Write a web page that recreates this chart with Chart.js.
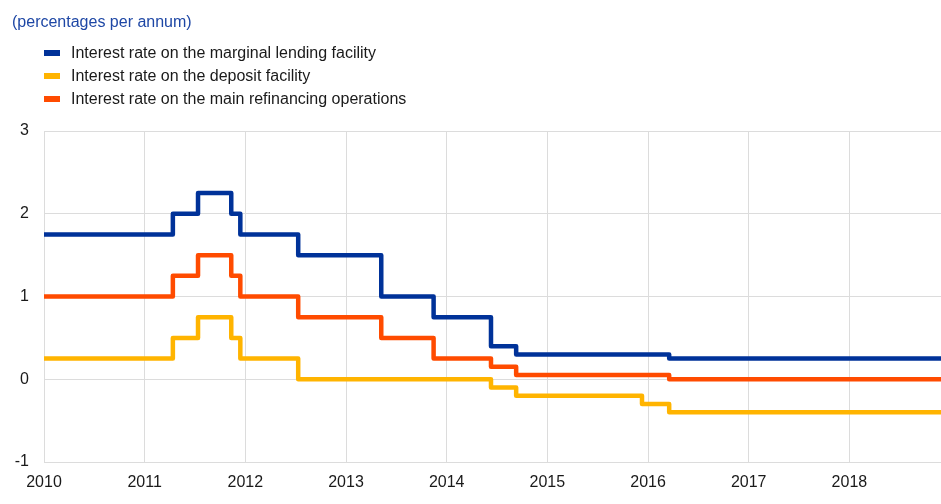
<!DOCTYPE html>
<html lang="en">

<head>
    <meta charset="UTF-8">
    <title>Key ECB interest rates</title>
    <script src="https://cdn.jsdelivr.net/npm/chart.js"></script>
    <style>
        body {
            margin: 0;
            font-family: Arial, "Liberation Sans", sans-serif;
            background: #fff;
        }

        #wrap {
            position: relative;
            width: 941px;
            height: 504px;
        }

        #chart {
            position: absolute;
            left: 0;
            top: 0;
        }

        .title {
            position: absolute;
            left: 12px;
            top: 13px;
            font-size: 16px;
            color: #1e47a5;
        }

        .legend {
            position: absolute;
            left: 44px;
            top: 43px;
        }

        .legend div {
            height: 23px;
            line-height: 20px;
            font-size: 16px;
            color: #1a1a1a;
        }

        .legend span {
            display: inline-block;
            width: 16px;
            height: 6px;
            margin-right: 11px;
            vertical-align: middle;
            position: relative;
            top: -1px;
        }
    </style>
</head>

<body>
    <div id="wrap">
        <canvas id="chart" width="941" height="504"></canvas>
        <div class="title">(percentages per annum)</div>
        <div class="legend" id="legend"></div>
    </div>

    <script>
        // dates of the rate changes, as decimal years (last one = end of chart)
        const changeDates = [2010.0, 2011.28, 2011.53, 2011.86, 2011.95, 2012.525, 2013.35, 2013.87, 2014.44, 2014.69, 2015.94, 2016.21, 2018.91];
        const marginalLending = [1.75, 2.00, 2.25, 2.00, 1.75, 1.50, 1.00, 0.75, 0.40, 0.30, 0.30, 0.25, 0.25];
        const depositFacility = [0.25, 0.50, 0.75, 0.50, 0.25, 0.00, 0.00, 0.00, -0.10, -0.20, -0.30, -0.40, -0.40];
        const mainRefinancing = [1.00, 1.25, 1.50, 1.25, 1.00, 0.75, 0.50, 0.25, 0.15, 0.05, 0.05, 0.00, 0.00];
        const seriesNames = [
            'Interest rate on the marginal lending facility',
            'Interest rate on the deposit facility',
            'Interest rate on the main refinancing operations'
        ];
        const seriesColors = ['#003299', '#ffb400', '#ff4b00'];
        const yearTicks = [2010, 2011, 2012, 2013, 2014, 2015, 2016, 2017, 2018];

        function toPoints(values) {
            return values.map((v, i) => ({ x: changeDates[i], y: v }));
        }

        const allSeries = [marginalLending, depositFacility, mainRefinancing];

        const legend = document.getElementById('legend');
        seriesNames.forEach((name, i) => {
            const row = document.createElement('div');
            row.innerHTML = '<span style="background:' + seriesColors[i] + '"></span>' + name;
            legend.appendChild(row);
        });

        const gridColor = '#dcdcdc';
        const tickFont = { family: 'Arial, "Liberation Sans", sans-serif', size: 16 };

        new Chart(document.getElementById('chart'), {
            type: 'line',
            data: {
                datasets: allSeries.map((vals, i) => ({
                    label: seriesNames[i],
                    data: toPoints(vals),
                    borderColor: seriesColors[i],
                    backgroundColor: seriesColors[i],
                    borderWidth: 4.5,
                    borderJoinStyle: 'round',
                    stepped: 'before',
                    pointRadius: 0,
                    fill: false
                }))
            },
            options: {
                responsive: false,
                animation: false,
                layout: { padding: { top: 131, right: 0, left: 0, bottom: 0 } },
                plugins: {
                    legend: { display: false },
                    tooltip: { enabled: false }
                },
                scales: {
                    x: {
                        type: 'linear',
                        min: 2010,
                        max: 2018.91,
                        afterBuildTicks: s => { s.ticks = yearTicks.map(v => ({ value: v })); },
                        afterFit: s => { s.height = 42; },
                        grid: { color: gridColor, drawTicks: false },
                        border: { color: gridColor },
                        ticks: {
                            padding: 11,
                            color: '#1a1a1a',
                            font: tickFont,
                            maxRotation: 0,
                            callback: v => String(v)
                        }
                    },
                    y: {
                        min: -1,
                        max: 3,
                        afterFit: s => { s.width = 44; },
                        grid: { color: gridColor, drawTicks: false },
                        border: { color: gridColor },
                        ticks: {
                            stepSize: 1,
                            padding: 15,
                            color: '#1a1a1a',
                            font: tickFont
                        }
                    }
                }
            }
        });
    </script>
</body>

</html>
